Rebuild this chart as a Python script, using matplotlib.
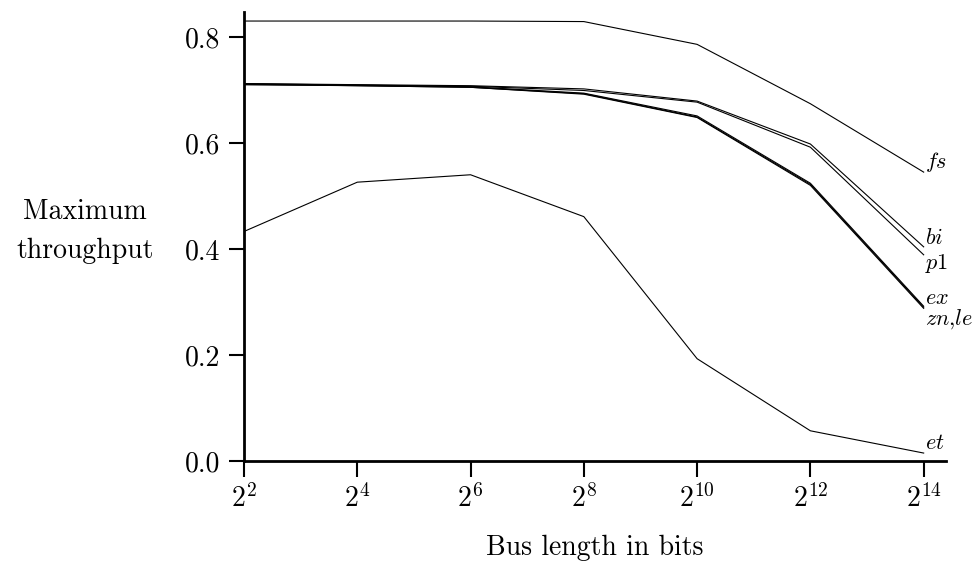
import numpy as np
import matplotlib
matplotlib.use("Agg")
import matplotlib.pyplot as plt

plt.rcParams['font.family'] = ['cmr10', 'DejaVu Serif']
plt.rcParams['mathtext.fontset'] = 'cm'
plt.rcParams['axes.formatter.use_mathtext'] = True

# exponents of bus length (2^k bits)
exponents = [2, 4, 6, 8, 10, 12, 14]

fs = [0.830, 0.830, 0.830, 0.829, 0.786, 0.674, 0.545]
bi = [0.712, 0.710, 0.708, 0.702, 0.679, 0.598, 0.404]
p1 = [0.710, 0.709, 0.707, 0.699, 0.677, 0.592, 0.389]
ex = [0.712, 0.709, 0.706, 0.694, 0.651, 0.524, 0.292]
zn = [0.711, 0.708, 0.705, 0.692, 0.648, 0.520, 0.288]
le = [0.710, 0.708, 0.705, 0.693, 0.649, 0.522, 0.290]
et = [0.433, 0.526, 0.540, 0.461, 0.193, 0.057, 0.015]

series = [fs, bi, p1, ex, zn, le, et]
end_labels = ['$fs$', '$bi$', '$p1$', '$ex$', '$zn{,}le$', '$et$']
label_y = [0.565, 0.421, 0.372, 0.307, 0.268, 0.033]

fig = plt.figure(figsize=(9.74, 5.62), dpi=100)
ax = fig.add_axes([0.2505, 0.1797, 0.7205, 0.7989])

for s in series:
    ax.plot(exponents, s, color='black', lw=0.8)

for txt, yy in zip(end_labels, label_y):
    ax.text(exponents[-1] + 0.02, yy, txt, fontsize=16, va='center', ha='left')

ax.set_xlim(2, 14.39)
ax.set_ylim(0, 0.847)
ax.set_xticks(exponents)
ax.set_xticklabels(['$2^{%d}$' % k for k in exponents], fontsize=20)
ax.set_yticks([0.0, 0.2, 0.4, 0.6, 0.8])
ax.set_yticklabels(['0.0', '0.2', '0.4', '0.6', '0.8'], fontsize=20)
ax.tick_params(axis='x', direction='out', length=11.5, width=1.5, pad=5)
ax.tick_params(axis='y', direction='out', length=11, width=1.5, pad=6)

for side in ['top', 'right']:
    ax.spines[side].set_visible(False)
for side in ['left', 'bottom']:
    ax.spines[side].set_linewidth(2)

ax.set_xlabel('Bus length in bits', fontsize=20, labelpad=16)
fig.text(0.087, 0.588, 'Maximum\nthroughput', fontsize=20, ha='center',
         va='center', linespacing=1.6)

fig.savefig('out.png', dpi=100)
